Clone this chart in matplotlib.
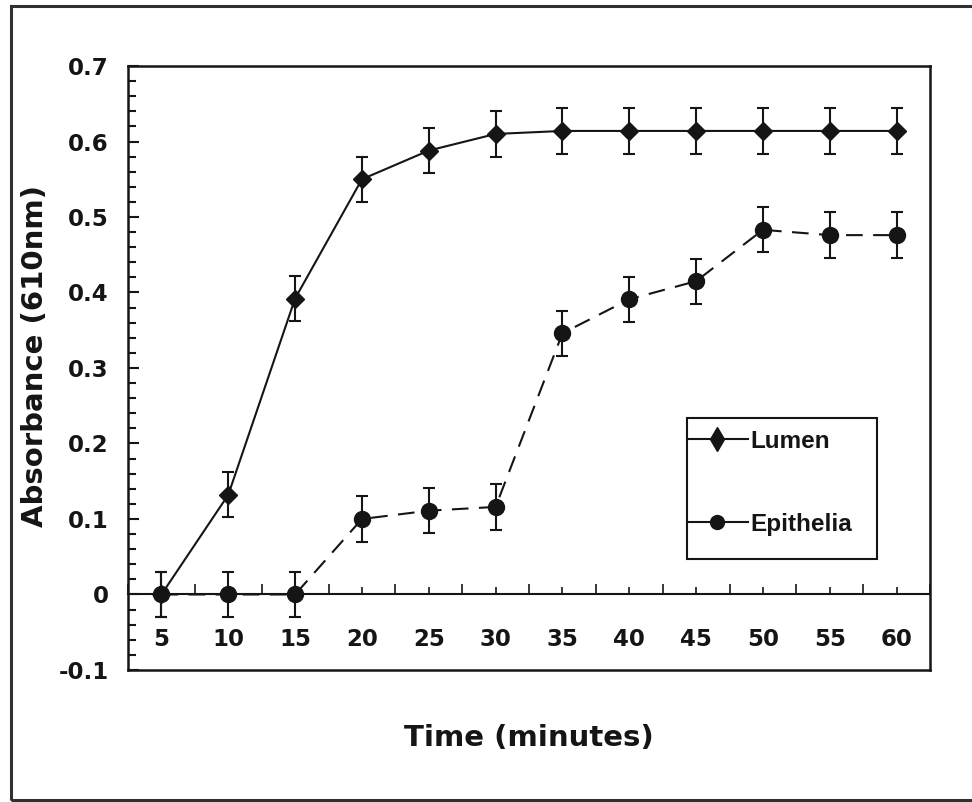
import numpy as np
import matplotlib
matplotlib.use("Agg")
import matplotlib.pyplot as plt
from matplotlib.lines import Line2D
from matplotlib.patches import Rectangle
from matplotlib.ticker import MultipleLocator

# data
times = ["5", "10", "15", "20", "25", "30", "35", "40", "45", "50", "55", "60"]
lumen = [0.0, 0.132, 0.392, 0.55, 0.588, 0.61, 0.614, 0.614, 0.614, 0.614, 0.614, 0.614]
lumen_err = [0.03] * 12
epith = [0.0, 0.0, 0.0, 0.1, 0.111, 0.116, 0.346, 0.391, 0.415, 0.483, 0.476, 0.476]
epith_err = [0.03] * 12
ytick_vals = [-0.1, 0.0, 0.1, 0.2, 0.3, 0.4, 0.5, 0.6, 0.7]
ytick_labels = ["-0.1", "0", "0.1", "0.2", "0.3", "0.4", "0.5", "0.6", "0.7"]

ink = "#151515"
plt.rcParams['font.family'] = 'DejaVu Sans'
plt.rcParams['font.weight'] = 'bold'

fig = plt.figure(figsize=(9.72, 8.02), dpi=100)
ax = fig.add_axes([0.1317, 0.1646, 0.8251, 0.7531])

x = np.arange(len(times))

# error bars first, lines + markers on top
ax.errorbar(x, lumen, yerr=lumen_err, fmt='none', ecolor=ink, elinewidth=1.5,
            capsize=4.5, capthick=1.5, zorder=3)
ax.errorbar(x, epith, yerr=epith_err, fmt='none', ecolor=ink, elinewidth=1.5,
            capsize=4.5, capthick=1.5, zorder=3)
ax.plot(x, lumen, color=ink, lw=1.5, marker='D', ms=9.5, mfc=ink, mec=ink, zorder=4)
ax.plot(x, epith, color=ink, lw=1.5, ls=(0, (8, 5)), marker='o', ms=11.5,
        mfc=ink, mec=ink, zorder=4)

ax.set_xlim(-0.5, len(times) - 0.5)
ax.set_ylim(-0.1, 0.7)

# y axis
ax.set_yticks(ytick_vals)
ax.set_yticklabels(ytick_labels, fontsize=16.5, fontweight='bold', color=ink)
ax.yaxis.set_minor_locator(MultipleLocator(0.02))
ax.tick_params(axis='y', which='major', direction='in', length=8, width=1.5,
               pad=14, colors=ink)
ax.tick_params(axis='y', which='minor', direction='in', length=6, width=1.5,
               colors=ink)
ax.tick_params(axis='x', which='both', bottom=False, labelbottom=False)
for sp in ax.spines.values():
    sp.set_linewidth(1.8)
    sp.set_color(ink)

# x axis drawn along y = 0
sec = ax.secondary_xaxis((0 - (-0.1)) / 0.8)
sec.set_xticks(x)
sec.set_xticklabels(times, fontsize=16.5, fontweight='bold', color=ink)
sec.set_xticks(np.arange(len(times) + 1) - 0.5, minor=True)
sec.tick_params(axis='x', which='major', direction='in', length=5, width=1.2,
                pad=24, colors=ink)
sec.tick_params(axis='x', which='minor', direction='in', length=7, width=1.2,
                colors=ink)
sec.spines['bottom'].set_linewidth(1.5)
sec.spines['bottom'].set_color(ink)

ax.set_ylabel("Absorbance (610nm)", fontsize=21, fontweight='bold', color=ink)
ax.yaxis.set_label_coords(-0.098, 0.52)
ax.set_xlabel("Time (minutes)", fontsize=21, fontweight='bold', color=ink)
ax.xaxis.set_label_coords(0.5, -0.09)

# legend box drawn separately so its height matches the original
ax.add_patch(Rectangle((0.697, 0.184), 0.237, 0.233, transform=ax.transAxes,
                       fill=False, edgecolor=ink, lw=1.5, zorder=5))
handles = [
    Line2D([], [], color=ink, lw=1.5, marker='d', ms=12, mfc=ink, mec=ink),
    Line2D([], [], color=ink, lw=1.5, marker='o', ms=10, mfc=ink, mec=ink),
]
leg = ax.legend(handles, ["Lumen", "Epithelia"], loc='upper left',
                bbox_to_anchor=(0.697, 0.398), frameon=False,
                handlelength=2.5, handletextpad=0.1, borderpad=0,
                labelspacing=2.47, borderaxespad=0,
                prop={'family': ['Liberation Sans', 'DejaVu Sans'],
                      'weight': 'bold', 'size': 17.5})
for t in leg.get_texts():
    t.set_color(ink)

# outer frame around the whole picture
fig.add_artist(Rectangle((11 / 972, 2 / 802), 1.0, 794 / 802,
                         transform=fig.transFigure, fill=False,
                         edgecolor="#303030", lw=2.2))

fig.savefig("out.png", dpi=100)
